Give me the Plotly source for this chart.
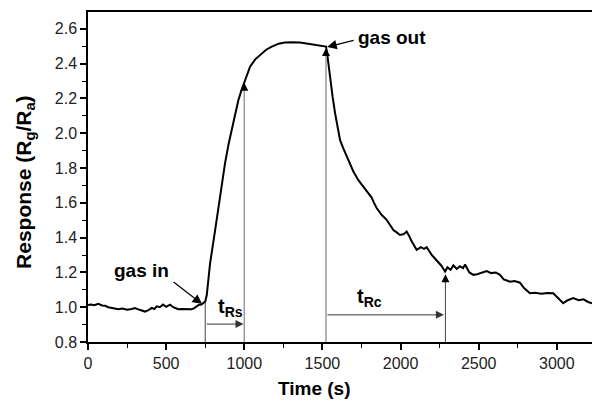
import plotly.graph_objects as go

time_s = [0, 20, 40, 66, 90, 110, 130, 160, 194, 220, 250, 280, 300, 330, 365, 390,
          408, 425, 440, 460, 480, 500, 525, 545, 560, 578, 600, 630, 663, 680, 706,
          725, 740, 750, 760, 781, 813, 845, 877, 900, 919, 940, 962, 983, 1000, 1015,
          1037, 1070, 1101, 1140, 1176, 1220, 1260, 1300, 1357, 1400, 1442, 1490, 1523,
          1530, 1549, 1565, 1581, 1597, 1613, 1635, 1655, 1675, 1698, 1730, 1762, 1790,
          1815, 1830, 1847, 1880, 1911, 1935, 1954, 1975, 1996, 2020, 2039, 2055, 2070,
          2103, 2130, 2150, 2167, 2200, 2231, 2260, 2285, 2300, 2320, 2338, 2360, 2380,
          2400, 2413, 2440, 2466, 2490, 2520, 2551, 2580, 2610, 2636, 2660, 2700, 2730,
          2764, 2790, 2828, 2860, 2900, 2940, 2977, 3000, 3041, 3070, 3105, 3140, 3170,
          3200, 3225]
response = [1.013, 1.015, 1.012, 1.020, 1.010, 1.008, 1.000, 0.995, 0.988, 0.992,
            0.985, 0.990, 0.995, 0.985, 0.975, 0.985, 0.996, 0.990, 1.005, 1.000,
            1.015, 1.002, 1.015, 1.000, 0.995, 0.988, 0.990, 0.987, 0.988, 0.995,
            1.012, 1.015, 1.026, 1.032, 1.070, 1.250, 1.440, 1.636, 1.828, 1.940,
            2.020, 2.110, 2.190, 2.250, 2.290, 2.330, 2.383, 2.425, 2.450, 2.480,
            2.498, 2.515, 2.521, 2.523, 2.521, 2.515, 2.512, 2.503, 2.498, 2.460,
            2.306, 2.210, 2.115, 2.030, 1.960, 1.910, 1.870, 1.830, 1.780, 1.730,
            1.690, 1.660, 1.630, 1.600, 1.570, 1.530, 1.502, 1.470, 1.444, 1.430,
            1.415, 1.420, 1.435, 1.410, 1.380, 1.330, 1.345, 1.335, 1.345, 1.300,
            1.272, 1.240, 1.205, 1.230, 1.215, 1.240, 1.220, 1.235, 1.225, 1.245,
            1.200, 1.186, 1.190, 1.200, 1.208, 1.196, 1.200, 1.186, 1.160, 1.147,
            1.150, 1.141, 1.110, 1.080, 1.083, 1.078, 1.082, 1.080, 1.060, 1.023,
            1.040, 1.052, 1.040, 1.045, 1.030, 1.023]

x_ticks = [0, 500, 1000, 1500, 2000, 2500, 3000]
y_ticks = [0.8, 1.0, 1.2, 1.4, 1.6, 1.8, 2.0, 2.2, 2.4, 2.6]

# marker times / levels
t_in, t_rs_end, t_out, t_rc_end = 750, 1000, 1523, 2287
v_in, v_rs_end, v_out, v_rc_end = 1.03, 2.29, 2.49, 1.19
rs_arrow_level, rc_arrow_level = 0.903, 0.956

FONT = "Arial, Liberation Sans, sans-serif"

fig = go.Figure()
fig.add_trace(go.Scatter(x=time_s, y=response, mode="lines",
                         line=dict(color="black", width=2), showlegend=False))

shapes = [
    dict(type="line", xref="x", yref="y", x0=t_in, x1=t_in, y0=0.8, y1=v_in,
         line=dict(color="#444", width=1)),
    dict(type="line", xref="x", yref="y", x0=t_rs_end, x1=t_rs_end, y0=0.8, y1=v_rs_end - 0.03,
         line=dict(color="#999", width=1.5)),
    dict(type="line", xref="x", yref="y", x0=t_out, x1=t_out, y0=0.8, y1=v_out - 0.03,
         line=dict(color="#999", width=1.5)),
    dict(type="line", xref="x", yref="y", x0=t_rc_end, x1=t_rc_end, y0=0.8, y1=v_rc_end - 0.03,
         line=dict(color="#444", width=1)),
]

def arrow(x, y, ax, ay, color="black", width=1, size=1.6):
    return dict(x=x, y=y, ax=ax, ay=ay, xref="x", yref="y", axref="x", ayref="y",
                text="", showarrow=True, arrowhead=2, arrowsize=size,
                arrowwidth=width, arrowcolor=color, standoff=0, startstandoff=0)

annotations = [
    arrow(t_rs_end - 5, rs_arrow_level, t_in, rs_arrow_level, color="#333"),
    arrow(t_rc_end - 10, rc_arrow_level, t_out, rc_arrow_level, color="#333"),
    arrow(t_rs_end, v_rs_end, t_rs_end, v_rs_end - 0.05),
    arrow(t_out, v_out, t_out, v_out - 0.05),
    arrow(t_rc_end, v_rc_end, t_rc_end, v_rc_end - 0.05),
    arrow(730, 1.018, 538, 1.151, width=1.2),
    arrow(1530, 2.496, 1709, 2.536, width=1.2),
    dict(x=342, y=1.209, xref="x", yref="y", text="<b>gas in</b>", showarrow=False,
         font=dict(family=FONT, size=19, color="black")),
    dict(x=1718, y=2.548, xref="x", yref="y", text="<b>gas out</b>", showarrow=False,
         xanchor="left", font=dict(family=FONT, size=19, color="black")),
    dict(x=912, y=1.0, xref="x", yref="y", text="<b>t<sub>Rs</sub></b>", showarrow=False,
         font=dict(family=FONT, size=20, color="black")),
    dict(x=1800, y=1.055, xref="x", yref="y", text="<b>t<sub>Rc</sub></b>", showarrow=False,
         font=dict(family=FONT, size=20, color="black")),
    dict(x=0.45, y=-0.142, xref="paper", yref="paper", xanchor="center", yanchor="middle",
         text="<b>Time (s)</b>", showarrow=False,
         font=dict(family=FONT, size=19, color="black")),
    dict(x=-0.125, y=0.485, xref="paper", yref="paper", xanchor="center", yanchor="middle",
         text="<b>Response (R<sub>g</sub>/R<sub>a</sub>)</b>", showarrow=False, textangle=-90,
         font=dict(family=FONT, size=21, color="black")),
]

fig.update_layout(
    width=592, height=403,
    margin=dict(l=88, r=0, t=12, b=61),
    paper_bgcolor="white", plot_bgcolor="white",
    font=dict(family=FONT, size=16, color="#222"),
    shapes=shapes, annotations=annotations,
    xaxis=dict(range=[0, 3225], tickvals=x_ticks, ticks="outside", ticklen=6, tickwidth=1.5,
               tickcolor="black", showline=True, linecolor="black", linewidth=1.5,
               mirror=True, showgrid=False, zeroline=False,
               minor=dict(dtick=250, tick0=0, ticks="outside", ticklen=4, tickwidth=1.2,
                          tickcolor="black", showgrid=False)),
    yaxis=dict(range=[0.8, 2.697], tickvals=y_ticks, ticktext=[f"{v:.1f}" for v in y_ticks],
               ticks="outside", ticklen=6, tickwidth=1.5,
               tickcolor="black", showline=True, linecolor="black", linewidth=1.5,
               showgrid=False, zeroline=False,
               minor=dict(dtick=0.1, tick0=0.8, ticks="outside", ticklen=4, tickwidth=1.2,
                          tickcolor="black", showgrid=False)),
)

fig.write_html("out.html", config={"displayModeBar": False},
               post_script="document.body.style.margin='0';document.body.style.overflow='hidden';")
